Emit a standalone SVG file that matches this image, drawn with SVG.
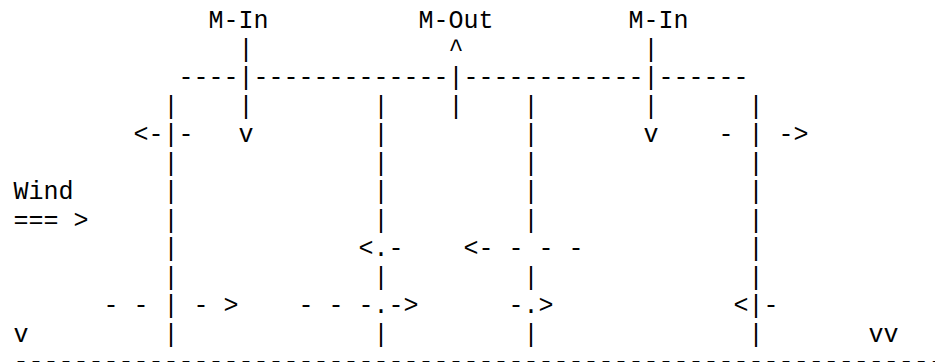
<svg xmlns="http://www.w3.org/2000/svg" width="935" height="362" viewBox="0 0 935 362">
<style>
text { font-family: "Liberation Mono", "Courier New", monospace; font-size: 25px; fill: #000; white-space: pre; }
</style>
<rect width="935" height="362" fill="#fff"/>
<g id="node-m-in-left"><text x="208.5" y="28.4">M-In</text></g>
<g id="node-m-out"><text x="418.5" y="28.4">M-Out</text></g>
<g id="node-m-in-right"><text x="628.5" y="28.4">M-In</text></g>
<g id="node-wind">
<text x="13.5" y="199.4">Wind</text>
<text x="13.5" y="227.9" xml:space="preserve">=== &gt;</text>
</g>
<g id="connectors">
<text x="238.5" y="56.9" xml:space="preserve">|             ^            |</text>
<text x="178.5" y="85.4" xml:space="preserve">----|-------------|------------|------</text>
<text x="163.5" y="113.9" xml:space="preserve">|    |        |    |    |       |      |</text>
<text x="133.5" y="142.4" xml:space="preserve">&lt;-|-   v        |         |       v    - | -&gt;</text>
<text x="163.5" y="170.9" xml:space="preserve">|             |         |              |</text>
<text x="163.5" y="199.4" xml:space="preserve">|             |         |              |</text>
<text x="163.5" y="227.9" xml:space="preserve">|             |         |              |</text>
<text x="163.5" y="256.4" xml:space="preserve">|            &lt;.-    &lt;- - - -           |</text>
<text x="163.5" y="284.9" xml:space="preserve">|             |         |              |</text>
<text x="103.5" y="313.4" xml:space="preserve">- - | - &gt;    - - -.-&gt;      -.&gt;            &lt;|-</text>
<text x="13.5" y="341.9">v</text>
<text x="163.5" y="341.9" xml:space="preserve">|             |         |              |</text>
<text x="868.5" y="341.9">vv</text>
<text x="13.5" y="369.1" xml:space="preserve">--------------------------------------------------------------</text>
</g>
</svg>
